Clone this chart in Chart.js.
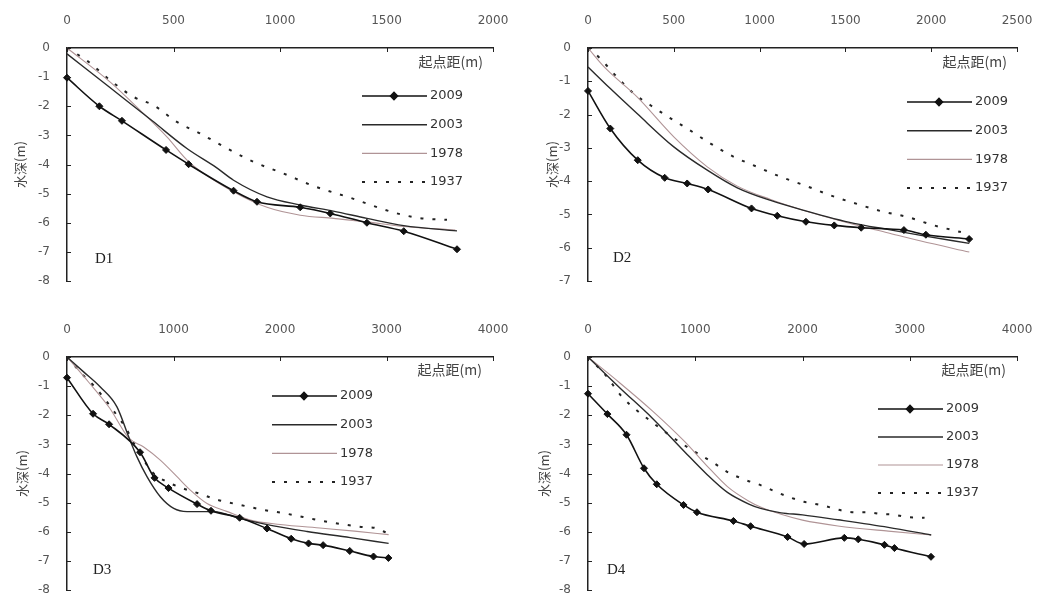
<!DOCTYPE html>
<html lang="zh">
<head>
<meta charset="UTF-8">
<title>水深断面</title>
<script src="https://cdnjs.cloudflare.com/ajax/libs/Chart.js/4.4.1/chart.umd.min.js"></script>
<style>
    body { margin: 0; background: #fff; }
    .panel { position: absolute; }
</style>
</head>
<body>

<div class="panel" style="left:0;top:0;"><canvas id="d1" width="520" height="300"></canvas></div>
<div class="panel" style="left:520px;top:0;"><canvas id="d2" width="517" height="300"></canvas></div>
<div class="panel" style="left:0;top:300px;"><canvas id="d3" width="520" height="303"></canvas></div>
<div class="panel" style="left:520px;top:300px;"><canvas id="d4" width="517" height="303"></canvas></div>

<script>
// series years
const years = ['2009', '2003', '1978', '1937'];

// D1
const d1_2009_x = [0, 152, 258, 465, 571, 782, 892, 1095, 1236, 1408, 1581, 1831];
const d1_2009_y = [-1.02, -2.0, -2.5, -3.5, -3.99, -4.9, -5.28, -5.47, -5.68, -6.0, -6.29, -6.91];
const d1_2003_x = [0, 200, 400, 563, 700, 782, 939, 1095, 1250, 1408, 1581, 1831];
const d1_2003_y = [-0.2, -1.35, -2.5, -3.45, -4.1, -4.54, -5.11, -5.39, -5.6, -5.85, -6.1, -6.28];
const d1_1978_x = [0, 203, 344, 469, 571, 782, 939, 1095, 1252, 1408, 1565, 1823];
const d1_1978_y = [0, -1.17, -2.14, -3.05, -3.9, -4.94, -5.47, -5.74, -5.85, -5.97, -6.12, -6.25];
const d1_1937_x = [0, 102, 203, 313, 407, 516, 626, 767, 876, 1017, 1155, 1329, 1540, 1657, 1784];
const d1_1937_y = [0, -0.48, -1.11, -1.68, -1.97, -2.54, -2.94, -3.51, -3.91, -4.31, -4.73, -5.14, -5.66, -5.84, -5.9];

// D2
const d2_2009_x = [0, 130, 290, 447, 578, 700, 953, 1103, 1270, 1435, 1592, 1841, 1969, 2221];
const d2_2009_y = [-1.29, -2.42, -3.37, -3.9, -4.07, -4.25, -4.82, -5.04, -5.22, -5.33, -5.4, -5.47, -5.61, -5.74];
const d2_2003_x = [0, 130, 286, 500, 695, 870, 1064, 1259, 1550, 1745, 1940, 2222];
const d2_2003_y = [-0.57, -1.22, -1.97, -2.97, -3.67, -4.2, -4.58, -4.88, -5.27, -5.45, -5.63, -5.87];
const d2_1978_x = [0, 100, 286, 500, 695, 870, 1064, 1259, 1550, 1745, 1940, 2222];
const d2_1978_y = [0, -0.6, -1.47, -2.67, -3.57, -4.15, -4.55, -4.88, -5.3, -5.55, -5.8, -6.13];
const d2_1937_x = [0, 62, 169, 267, 364, 471, 578, 714, 850, 986, 1123, 1259, 1426, 1572, 1706, 1864, 2010, 2173];
const d2_1937_y = [0, -0.27, -0.87, -1.37, -1.72, -2.08, -2.42, -2.87, -3.27, -3.57, -3.87, -4.12, -4.45, -4.69, -4.9, -5.08, -5.32, -5.53];

// D3
const d3_2009_x = [0, 245, 395, 686, 822, 953, 1221, 1352, 1621, 1878, 2105, 2268, 2405, 2655, 2878, 3018];
const d3_2009_y = [-0.71, -1.95, -2.31, -3.27, -4.15, -4.5, -5.05, -5.28, -5.52, -5.89, -6.24, -6.4, -6.46, -6.66, -6.85, -6.9];
const d3_2003_x = [0, 156, 313, 469, 579, 657, 751, 876, 1002, 1127, 1377, 1628, 1940, 2254, 2660, 3020];
const d3_2003_y = [0, -0.51, -1.03, -1.71, -2.74, -3.43, -4.11, -4.8, -5.2, -5.31, -5.31, -5.55, -5.8, -5.99, -6.2, -6.4];
const d3_1978_x = [0, 200, 400, 579, 720, 876, 1033, 1158, 1315, 1500, 1721, 2000, 2400, 2700, 3020];
const d3_1978_y = [0, -0.85, -1.75, -2.78, -3.09, -3.54, -4.11, -4.57, -5.03, -5.3, -5.6, -5.75, -5.88, -5.98, -6.1];
const d3_1937_x = [0, 153, 247, 341, 482, 548, 650, 800, 908, 1080, 1250, 1408, 1628, 1862, 2031, 2266, 2398, 2632, 2782, 2895, 3008];
const d3_1937_y = [0, -0.63, -0.97, -1.38, -2.07, -2.41, -3.1, -3.95, -4.23, -4.5, -4.7, -4.9, -5.08, -5.26, -5.36, -5.53, -5.63, -5.77, -5.84, -5.87, -6.05];

// D4
const d4_2009_x = [0, 181, 359, 522, 641, 891, 1016, 1356, 1516, 1861, 2015, 2390, 2520, 2764, 2857, 3198];
const d4_2009_y = [-1.26, -1.96, -2.67, -3.82, -4.37, -5.08, -5.33, -5.63, -5.81, -6.18, -6.42, -6.21, -6.26, -6.45, -6.56, -6.86];
const d4_2003_x = [0, 300, 600, 900, 1100, 1300, 1500, 1609, 1800, 2000, 2330, 2800, 3200];
const d4_2003_y = [0, -1.07, -2.1, -3.25, -4.0, -4.65, -5.05, -5.2, -5.35, -5.42, -5.59, -5.85, -6.11];
const d4_1978_x = [0, 300, 600, 900, 1100, 1300, 1500, 1609, 1800, 2000, 2330, 2800, 3200];
const d4_1978_y = [0, -0.9, -1.85, -2.9, -3.7, -4.45, -4.95, -5.15, -5.4, -5.6, -5.8, -5.98, -6.11];
const d4_1937_x = [0, 172, 313, 609, 891, 1172, 1297, 1466, 1581, 1797, 2013, 2172, 2378, 2481, 2606, 2734, 2844, 2969, 3138];
const d4_1937_y = [0, -0.66, -1.35, -2.27, -3.01, -3.64, -3.94, -4.22, -4.36, -4.7, -4.97, -5.08, -5.28, -5.33, -5.33, -5.39, -5.41, -5.49, -5.52];

// line styles per year
const styles = {
    '2009': { borderColor: '#111', borderWidth: 1.6, pointStyle: 'rectRot', pointRadius: 3.5,
              pointBackgroundColor: '#111', pointBorderColor: '#111', pointBorderWidth: 1 },
    '2003': { borderColor: '#2a2a2a', borderWidth: 1.4, pointRadius: 0 },
    '1978': { borderColor: '#b09496', borderWidth: 1.1, pointRadius: 0 },
    '1937': { borderColor: '#222', borderWidth: 2, borderDash: [3, 9], pointRadius: 0 }
};

const tickFont = { family: 'DejaVu Sans', size: 12 };

// panel settings
const panels = [
    { id: 'd1', name: 'D1', xs: [d1_2009_x, d1_2003_x, d1_1978_x, d1_1937_x], ys: [d1_2009_y, d1_2003_y, d1_1978_y, d1_1937_y],
      xMax: 2000, xStep: 500, yMin: -8, left: 67, top: 48, padR: 27, padB: 19, titlePad: 12,
      legend: [362, 96, 28.7], label: [95, 259], axisNote: [483, 62] },
    { id: 'd2', name: 'D2', xs: [d2_2009_x, d2_2003_x, d2_1978_x, d2_1937_x], ys: [d2_2009_y, d2_2003_y, d2_1978_y, d2_1937_y],
      xMax: 2500, xStep: 500, yMin: -7, left: 68, top: 48, padR: 20, padB: 19, titlePad: 24,
      legend: [387, 102, 28.7], label: [93, 258], axisNote: [487, 62] },
    { id: 'd3', name: 'D3', xs: [d3_2009_x, d3_2003_x, d3_1978_x, d3_1937_x], ys: [d3_2009_y, d3_2003_y, d3_1978_y, d3_1937_y],
      xMax: 4000, xStep: 1000, yMin: -8, left: 67, top: 57, padR: 27, padB: 13, titlePad: 14,
      legend: [272, 96, 28.7], label: [93, 270], axisNote: [482, 70] },
    { id: 'd4', name: 'D4', xs: [d4_2009_x, d4_2003_x, d4_1978_x, d4_1937_x], ys: [d4_2009_y, d4_2003_y, d4_1978_y, d4_1937_y],
      xMax: 4000, xStep: 1000, yMin: -8, left: 68, top: 57, padR: 20, padB: 13, titlePad: 16,
      legend: [358, 109, 28], label: [87, 270], axisNote: [486, 70] }
];

function pts(xs, ys) {
    return xs.map((x, i) => ({ x: x, y: ys[i] }));
}

// inward ticks, in-plot legend, axis note and panel name
const panelExtras = {
    id: 'panelExtras',
    afterDraw(chart, args, opts) {
        const ctx = chart.ctx;
        const area = chart.chartArea;
        const xs = chart.scales.x, ys = chart.scales.y;
        ctx.save();

        ctx.strokeStyle = '#222';
        ctx.lineWidth = 1;
        ctx.beginPath();
        xs.ticks.forEach(t => {
            const px = Math.round(xs.getPixelForValue(t.value)) + 0.5;
            ctx.moveTo(px, area.top);
            ctx.lineTo(px, area.top + 4);
        });
        ys.ticks.forEach(t => {
            const py = Math.round(ys.getPixelForValue(t.value)) + 0.5;
            ctx.moveTo(area.left - 1, py);
            ctx.lineTo(area.left + 4, py);
        });
        ctx.stroke();

        // legend
        const [lx, ly, gap] = opts.legend;
        chart.data.datasets.forEach((ds, i) => {
            const y = ly + i * gap;
            ctx.strokeStyle = ds.borderColor;
            ctx.lineWidth = ds.borderWidth;
            ctx.setLineDash(ds.borderDash || []);
            ctx.beginPath();
            ctx.moveTo(lx, y);
            ctx.lineTo(lx + 65, y);
            ctx.stroke();
            ctx.setLineDash([]);
            if (ds.pointRadius > 0) {
                ctx.fillStyle = ds.pointBackgroundColor;
                ctx.strokeStyle = ds.pointBorderColor;
                Chart.helpers.drawPoint(ctx, { pointStyle: ds.pointStyle, radius: ds.pointRadius, borderWidth: 1 }, lx + 32, y);
            }
            ctx.fillStyle = '#333';
            ctx.font = '13px "DejaVu Sans"';
            ctx.textAlign = 'left';
            ctx.textBaseline = 'middle';
            ctx.fillText(ds.label, lx + 68, y);
        });

        // x axis name
        ctx.fillStyle = '#444';
        ctx.font = '14px "Noto Sans CJK SC"';
        ctx.textAlign = 'right';
        ctx.textBaseline = 'middle';
        ctx.fillText('起点距(m)', opts.axisNote[0], opts.axisNote[1]);

        // panel name
        ctx.fillStyle = '#222';
        ctx.font = '15px "Liberation Serif"';
        ctx.textAlign = 'left';
        ctx.fillText(opts.name, opts.label[0], opts.label[1]);

        ctx.restore();
    }
};

panels.forEach(p => {
    new Chart(document.getElementById(p.id), {
        type: 'line',
        data: {
            datasets: years.map((yr, i) => Object.assign({
                label: yr,
                data: pts(p.xs[i], p.ys[i]),
                fill: false,
                cubicInterpolationMode: 'monotone',
                clip: false
            }, styles[yr]))
        },
        options: {
            responsive: false,
            animation: false,
            layout: { padding: { left: 0, top: 0, right: p.padR, bottom: p.padB } },
            plugins: {
                legend: { display: false },
                tooltip: { enabled: false },
                panelExtras: { legend: p.legend, label: p.label, axisNote: p.axisNote, name: p.name }
            },
            scales: {
                x: {
                    type: 'linear', position: 'top', min: 0, max: p.xMax,
                    ticks: { stepSize: p.xStep, padding: 20, color: '#555', font: tickFont, maxRotation: 0,
                             callback: v => String(v) },
                    grid: { display: false, drawTicks: false },
                    border: { color: '#222', width: 1.5 },
                    afterFit: s => { s.height = p.top; s.paddingLeft = 0; s.paddingRight = 0; }
                },
                y: {
                    type: 'linear', min: p.yMin, max: 0,
                    ticks: { stepSize: 1, padding: 17, color: '#555', font: tickFont, callback: v => String(v) },
                    grid: { display: false, drawTicks: false },
                    border: { color: '#222', width: 1.5 },
                    title: { display: true, text: '水深(m)', color: '#444',
                             font: { family: 'Noto Sans CJK SC', size: 13 }, padding: { top: p.titlePad, bottom: 0 } },
                    afterFit: s => { s.width = p.left; s.paddingTop = 0; s.paddingBottom = 0; }
                }
            }
        },
        plugins: [panelExtras]
    });
});
</script>
</body>
</html>
